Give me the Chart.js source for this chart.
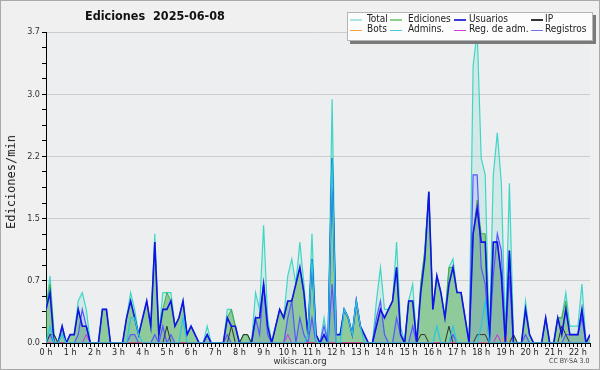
<!DOCTYPE html>
<html>
<head>
<meta charset="utf-8">
<script src="https://cdn.jsdelivr.net/npm/chart.js@4.4.1/dist/chart.umd.min.js"></script>
<style>
  html, body { margin: 0; padding: 0; background: #f0f0f0; }
  #wrap { position: relative; width: 600px; height: 370px; overflow: hidden; }
  #wrap canvas { position: absolute; left: 0; top: 0; }
  #frame { position: absolute; left: 0; top: 0; width: 600px; height: 370px; box-sizing: border-box; border: 1px solid #a9a9a9; pointer-events: none; }
  .t { position: absolute; white-space: nowrap; font-family: 'DejaVu Sans Condensed', 'DejaVu Sans', sans-serif; font-stretch: condensed; color: #222; }
  #title { left: 85px; top: 8px; font-weight: bold; font-size: 12.5px; color: #111; }
  #ytitle { left: 11px; top: 182px; font-family: 'DejaVu Sans Mono', monospace; font-stretch: normal; font-size: 12px; transform: translate(-50%, -50%) rotate(-90deg); }
  #site { left: 300px; top: 355px; font-size: 9.5px; color: #333; transform: translateX(-50%); }
  #lic { left: 549px; top: 357px; font-size: 7px; color: #444; }
  #legend { position: absolute; left: 347px; top: 12px; width: 244px; height: 27px; background: #fcfcfc; border: 1px solid #b5b5b5; box-shadow: 3px 3px 0 #7a7a7a; }
  .lm { position: absolute; height: 1.5px; width: 12px; }
  .lt { font-size: 10px; color: #222; }
</style>
</head>
<body>
<div id="wrap">
  <canvas id="chart" width="600" height="370"></canvas>
  <div class="t" id="title">Ediciones&nbsp;&nbsp;2025-06-08</div>
  <div class="t" id="ytitle">Ediciones/min</div>
  <div class="t" id="site">wikiscan.org</div>
  <div class="t" id="lic">CC BY-SA 3.0</div>
  <div id="legend"></div>
  <div id="frame"></div>
</div>
<script>
// 10-minute slots from 00:00 to 22:30, values in edits per minute
const hourLabels = ['0 h','1 h','2 h','3 h','4 h','5 h','6 h','7 h','8 h','9 h','10 h','11 h',
  '12 h','13 h','14 h','15 h','16 h','17 h','18 h','19 h','20 h','21 h','22 h'];
const yMajor = [0, 0.74, 1.48, 2.22, 2.96, 3.7];
const yLabels = ['0.0','0.7','1.5','2.2','3.0','3.7'];

const total = [
  0.4,0.8,0.1,0,0.2,0,0.1,0.1,0.5,0.6,
  0.4,0,0,0,0.4,0.4,0,0,0,0,
  0.3,0.6,0.4,0.1,0.3,0.5,0.2,1.3,0.1,0.6,
  0.6,0.6,0.2,0.3,0.5,0.1,0.2,0.1,0,0,
  0.2,0,0,0,0,0.4,0.4,0.2,0,0.1,
  0.1,0,0.6,0.4,1.4,0.3,0,0.2,0.4,0.3,
  0.8,1.0,0.7,1.2,0.7,0.1,1.3,0.1,0,0.3,
  0,2.9,0.1,0.1,0.4,0.3,0.1,0.5,0.2,0.1,
  0,0,0.5,0.9,0.4,0.4,0.5,1.2,0.2,0,
  0.5,0.7,0,0.7,1.1,1.8,0.4,0.8,0.6,0.3,
  0.9,1.0,0.6,0.6,0.3,0,3.3,3.7,2.2,2.0,
  0,2.0,2.5,1.9,0.1,1.9,0.1,0,0,0.5,
  0.1,0,0,0,0.3,0,0,0.3,0.3,0.6,
  0.2,0.2,0.2,0.7,0,0.1
];
const ediciones = [
  0.4,0.7,0.1,0,0.2,0,0.1,0.1,0.4,0.2,
  0.2,0,0,0,0.4,0.4,0,0,0,0,
  0.3,0.5,0.3,0.1,0.3,0.5,0.2,1.2,0.1,0.4,
  0.6,0.5,0.2,0.3,0.5,0.1,0.2,0.1,0,0,
  0.1,0,0,0,0,0.3,0.4,0.2,0,0.1,
  0.1,0,0.3,0.3,0.7,0.2,0,0.2,0.4,0.3,
  0.5,0.5,0.7,0.9,0.6,0.1,1.0,0.1,0,0.1,
  0,2.2,0.1,0.1,0.4,0.3,0.1,0.5,0.2,0.1,
  0,0,0.2,0.4,0.3,0.4,0.5,0.9,0.1,0,
  0.5,0.5,0,0.7,1.1,1.8,0.4,0.8,0.6,0.3,
  0.9,0.9,0.6,0.6,0.3,0,1.3,1.7,1.3,1.3,
  0,1.2,1.2,0.8,0.1,1.1,0.1,0,0,0.4,
  0.1,0,0,0,0.3,0,0,0.3,0.3,0.5,
  0.1,0.1,0.1,0.4,0,0.1
];
const usuarios = [
  0.4,0.6,0,0,0.2,0,0.1,0.1,0.4,0.2,
  0.2,0,0,0,0.4,0.4,0,0,0,0,
  0.3,0.5,0.3,0.1,0.3,0.5,0.2,1.2,0.1,0.4,
  0.4,0.5,0.2,0.3,0.5,0.1,0.2,0.1,0,0,
  0.1,0,0,0,0,0.3,0.2,0.2,0,0,
  0,0,0.3,0.3,0.7,0.2,0,0.2,0.4,0.3,
  0.5,0.5,0.7,0.9,0.6,0.1,1.0,0.1,0,0.1,
  0,2.2,0.1,0.1,0.4,0.3,0.1,0.5,0.2,0.1,
  0,0,0.2,0.4,0.3,0.4,0.5,0.9,0.1,0,
  0.5,0.5,0,0.6,1.0,1.8,0.4,0.8,0.6,0.3,
  0.7,0.9,0.6,0.6,0.3,0,1.3,1.6,1.2,1.2,
  0,1.2,1.2,0.8,0,1.1,0,0,0,0.4,
  0.1,0,0,0,0.3,0,0,0.3,0.1,0.4,
  0.1,0.1,0.1,0.4,0,0.1
];
const ip = [
  0,0.1,0.1,0,0,0,0,0,0,0,
  0,0,0,0,0,0,0,0,0,0,
  0,0,0,0,0,0,0,0,0,0,
  0.2,0,0,0,0,0,0,0,0,0,
  0,0,0,0,0,0,0.2,0,0,0.1,
  0.1,0,0,0,0,0,0,0,0,0,
  0,0,0,0,0,0,0,0,0,0,
  0,0,0,0,0,0,0,0,0,0,
  0,0,0,0,0,0,0,0,0,0,
  0,0,0,0.1,0.1,0,0,0,0,0,
  0.2,0,0,0,0,0,0,0.1,0.1,0.1,
  0,0,0,0,0,0,0.1,0,0,0,
  0,0,0,0,0,0,0,0,0.2,0.1,
  0,0,0,0,0,0
];
const bots = [
  0,0,0,0,0,0,0,0,0,0, 0,0,0,0,0,0,0,0,0,0, 0,0,0,0,0,0,0,0,0,0,
  0,0,0,0,0,0,0,0,0,0, 0,0,0,0,0,0,0,0,0,0, 0,0,0,0,0,0,0,0,0,0,
  0,0,0,0,0,0,0,0,0,0, 0,0,0,0,0,0,0,0,0,0, 0,0,0,0,0,0,0,0,0,0,
  0,0,0,0,0,0,0,0,0,0, 0,0,0,0,0,0,0,0,0,0,
  0,0,0,0,0.1,0,0,0,0,0,
  0,0,0,0,0,0,0,0,0,0, 0,0,0,0,0,0
];
const admins = [
  0,0.2,0,0,0.1,0,0,0,0,0,
  0,0,0,0,0,0,0,0,0,0,
  0,0.3,0.3,0.1,0,0,0,0,0,0,
  0,0,0,0,0.3,0,0,0,0,0,
  0,0,0,0,0,0,0,0,0,0,
  0,0,0,0,0,0,0,0,0,0,
  0,0,0,0,0,0.1,1.0,0,0,0,
  0,2.2,0,0,0.4,0.3,0.1,0.5,0.2,0,
  0,0,0,0,0,0,0,0,0,0,
  0,0,0,0,0,0,0,0.2,0,0,
  0,0.2,0,0,0,0,0,0,0.2,0.5,
  0,0,0,0,0,0,0,0,0,0,
  0,0,0,0,0,0,0,0,0,0,
  0,0,0,0,0,0
];
const regAdm = [
  0,0,0,0,0,0,0,0,0,0, 0.1,0,0,0,0,0,0,0,0,0, 0,0,0,0,0,0,0,0,0,0,
  0,0,0,0,0,0,0,0,0,0, 0,0,0,0,0,0,0,0,0,0, 0,0,0,0,0,0,0,0,0,0,
  0.1,0,0,0,0,0,0,0,0,0, 0,0,0,0,0,0,0,0,0,0, 0,0,0,0,0,0,0,0,0,0,
  0,0,0,0,0,0,0,0,0,0, 0,0,0,0,0,0,0,0,0,0,
  0,0,0.1,0,0,0,0,0,0,0,
  0,0,0,0,0,0,0,0,0,0, 0,0,0,0,0,0
];
const registros = [
  0,0.1,0,0,0,0,0,0,0.1,0.4,
  0.2,0,0,0,0,0,0,0,0,0,
  0,0.1,0.1,0,0,0,0,0.1,0,0.2,
  0,0.1,0,0,0,0,0,0,0,0,
  0.1,0,0,0,0,0.1,0,0,0,0,
  0,0,0.3,0.1,0.7,0.1,0,0,0,0,
  0.3,0.5,0,0.3,0.1,0,0.3,0,0,0.2,
  0,0.7,0,0,0,0,0,0,0,0,
  0,0,0.3,0.5,0.1,0,0,0.3,0.1,0,
  0,0.2,0,0,0,0,0,0,0,0,
  0,0.1,0,0,0,0,2.0,2.0,0.9,0.7,
  0,0.8,1.3,1.1,0,0.8,0,0,0,0.1,
  0,0,0,0,0,0,0,0,0,0.1,
  0.1,0.1,0.1,0.3,0,0
];

const legendNames = ['Total','Ediciones','Usuarios','IP','Bots','Admins.','Reg. de adm.','Registros'];
const legendColors = ['#aee6e4','#8fd08f','#3a3ad8','#333333','#f2a03c','#45c8dc','#d040d8','#7272f0'];

// legend box (2 rows x 4 columns)
const legend = document.getElementById('legend');
const markX = [2, 42, 106, 183];
const textX = [19, 60, 121, 197];
legendNames.forEach((name, i) => {
  const col = i % 4, row = Math.floor(i / 4);
  const m = document.createElement('div');
  m.className = 'lm';
  m.style.left = markX[col] + 'px';
  m.style.top = (6 + row * 10.5) + 'px';
  m.style.background = legendColors[i];
  legend.appendChild(m);
  const t = document.createElement('div');
  t.className = 't lt';
  t.textContent = name;
  t.style.left = textX[col] + 'px';
  t.style.top = (row * 10.5 - 0.5) + 'px';
  legend.appendChild(t);
});

const slots = total.map((v, i) => i);

const plotBg = {
  id: 'plotBg',
  beforeDraw(chart) {
    const { ctx, chartArea: a } = chart;
    ctx.save();
    ctx.fillStyle = '#eceef0';
    ctx.fillRect(a.left, a.top, a.right - a.left, a.bottom - a.top);
    ctx.restore();
  }
};

function series(label, data, color, width, order, fillColor) {
  return {
    label: label,
    data: data.map((v, i) => ({ x: slots[i], y: v })),
    borderColor: color,
    borderWidth: width,
    backgroundColor: fillColor || color,
    fill: fillColor ? 'origin' : false,
    pointRadius: 0,
    tension: 0,
    order: order
  };
}

const tickFont = { family: "'DejaVu Sans Condensed', 'DejaVu Sans'", size: 9 };

new Chart(document.getElementById('chart').getContext('2d'), {
  type: 'line',
  data: {
    datasets: [
      series('Admins.', admins, '#2cc6de', 1.3, 1),
      series('Usuarios', usuarios, '#1212e8', 1.6, 2),
      series('Reg. de adm.', regAdm, '#d030d8', 1, 3),
      series('Bots', bots, '#ff9a30', 1, 4),
      series('IP', ip, '#303030', 1, 5),
      series('Registros', registros, '#5656ff', 1.2, 6, 'rgba(90,90,255,0.13)'),
      series('Ediciones', ediciones, '#44ad44', 1, 7, 'rgba(70,170,70,0.48)'),
      series('Total', total, '#3fd6c6', 1.2, 8, 'rgba(80,210,195,0.16)')
    ]
  },
  options: {
    responsive: false,
    animation: false,
    devicePixelRatio: 1,
    layout: { padding: { left: 0, right: 10, top: 32, bottom: 0 } },
    plugins: { legend: { display: false }, tooltip: { enabled: false }, title: { display: false } },
    scales: {
      x: {
        type: 'linear',
        min: 0,
        max: slots.length - 1,
        z: 1,
        afterBuildTicks: s => { s.ticks = slots.map(v => ({ value: v })); },
        afterFit: s => { s.height = 27; },
        ticks: {
          autoSkip: false,
          maxRotation: 0,
          padding: 0,
          color: '#222',
          font: tickFont,
          callback: v => (v % 6 === 0 ? hourLabels[v / 6] : '')
        },
        grid: { drawOnChartArea: false, tickLength: 4, tickColor: '#000' },
        border: { color: '#000', width: 1 }
      },
      y: {
        min: 0,
        max: 3.7,
        afterBuildTicks: s => {
          const t = [];
          yMajor.forEach((v, i) => {
            t.push({ value: v });
            if (i < yMajor.length - 1) {
              const step = (yMajor[i + 1] - v) / 4;
              for (let k = 1; k < 4; k++) t.push({ value: v + k * step });
            }
          });
          s.ticks = t;
        },
        afterFit: s => { s.width = 46; },
        ticks: {
          autoSkip: false,
          padding: 2,
          color: '#333',
          font: tickFont,
          callback: (v, i) => (i % 4 === 0 ? yLabels[i / 4] : '')
        },
        grid: {
          color: ctx => (ctx.index % 4 === 0 ? '#cdcdcd' : 'rgba(0,0,0,0)'),
          tickColor: '#000',
          tickLength: 4
        },
        border: { color: '#000', width: 1 }
      }
    }
  },
  plugins: [plotBg]
});
</script>
</body>
</html>
